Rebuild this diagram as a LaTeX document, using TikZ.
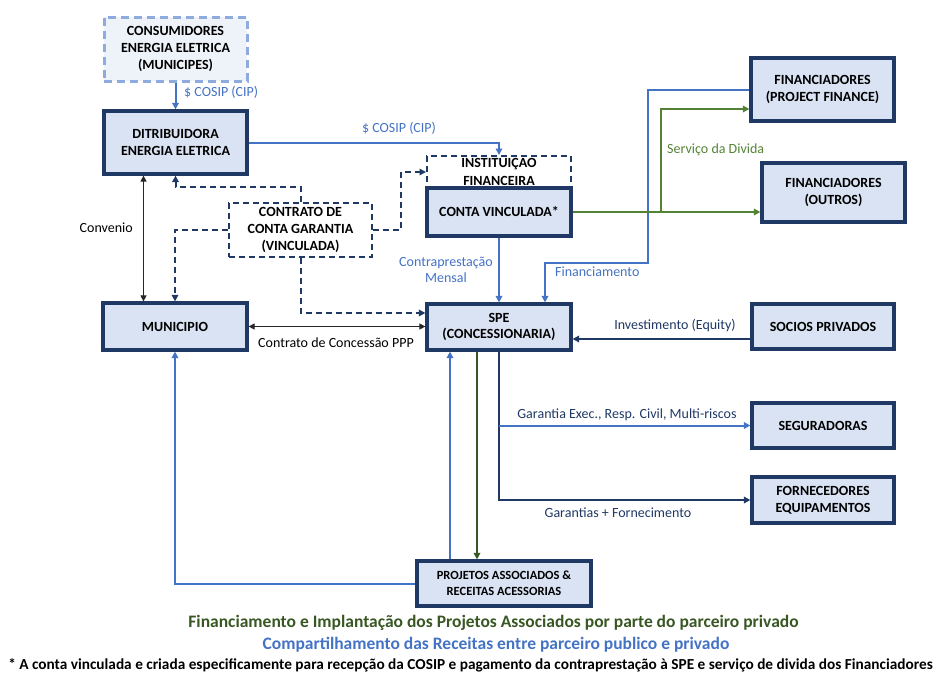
\documentclass[tikz,border=0pt]{standalone}
\usepackage{fontspec}
\setmainfont{Carlito}
\usetikzlibrary{arrows.meta,calc}
\definecolor{navy}{HTML}{1F3864}
\definecolor{boxfill}{HTML}{DAE3F3}
\definecolor{lblue}{HTML}{4472C4}
\definecolor{gre}{HTML}{548235}
\definecolor{dgre}{HTML}{385723}
\definecolor{pale}{HTML}{8FAADC}
\definecolor{palefill}{HTML}{EEF3FA}
\begin{document}
\begin{tikzpicture}[x=1pt,y=-1pt,
  >={Triangle[length=6.5pt,width=6.5pt]},
  box/.style={draw=navy, line width=3.2pt, fill=boxfill, align=center, inner sep=0pt,
    font=\fontsize{14}{16.7}\selectfont\bfseries},
  dbox/.style={draw=navy, line width=2pt, dash pattern=on 6pt off 4pt, fill=white, align=center, inner sep=0pt,
    font=\fontsize{14}{17.5}\selectfont\bfseries},
  cbox/.style={draw=pale, line width=3pt, dash pattern=on 8pt off 5pt, fill=palefill, align=center, inner sep=0pt,
    font=\fontsize{14}{16.7}\selectfont\bfseries},
  lbl/.style={font=\fontsize{14}{16.7}\selectfont, inner sep=0pt, align=center},
  bluel/.style={draw=lblue, line width=2pt},
  navyl/.style={draw=navy, line width=1.8pt},
  greenl/.style={draw=gre, line width=2pt},
  dgreenl/.style={draw=dgre, line width=2pt},
  dashl/.style={draw=navy, line width=2pt, dash pattern=on 6pt off 4pt},
  blackl/.style={draw=black!85, line width=0.9pt, {Triangle[length=6pt,width=6pt]}-{Triangle[length=6pt,width=6pt]}}
]
\useasboundingbox (0,0) rectangle (937,675);

% boxes
\node[cbox, minimum width=143pt, minimum height=64pt] (cons) at (175.5,49) {CONSUMIDORES\\ENERGIA ELETRICA\\(MUNICIPES)};
\node[box, minimum width=143pt, minimum height=63pt] (dist) at (175.5,142.5) {DITRIBUIDORA\\ENERGIA ELETRICA};
\node[dbox, minimum width=144pt, minimum height=32pt] (inst) at (499,172) {INSTITUIÇAO\\FINANCEIRA};
\node[box, minimum width=144pt, minimum height=48pt] (conta) at (499,212) {CONTA VINCULADA*};
\node[dbox, minimum width=143pt, minimum height=54pt, font=\fontsize{14}{16.7}\selectfont\bfseries] (contr) at (300.5,230) {CONTRATO DE\\CONTA GARANTIA\\(VINCULADA)};
\node[box, minimum width=144pt, minimum height=47pt] (mun) at (175,326.5) {MUNICIPIO};
\node[box, minimum width=144pt, minimum height=46pt] (spe) at (499,327) {SPE\\(CONCESSIONARIA)};
\node[box, minimum width=143pt, minimum height=63pt] (fpf) at (822.5,89.5) {FINANCIADORES\\(PROJECT FINANCE)};
\node[box, minimum width=143pt, minimum height=59pt] (fout) at (833.5,192.5) {FINANCIADORES\\(OUTROS)};
\node[box, minimum width=142pt, minimum height=45pt] (soc) at (823,326.5) {SOCIOS PRIVADOS};
\node[box, minimum width=142pt, minimum height=45pt] (seg) at (823,425.5) {SEGURADORAS};
\node[box, minimum width=142pt, minimum height=46pt] (forn) at (823,500) {FORNECEDORES\\EQUIPAMENTOS};
\node[box, minimum width=174pt, minimum height=45pt, font=\fontsize{12.5}{16}\selectfont\bfseries] (proj) at (504,583.5) {PROJETOS ASSOCIADOS \&\\RECEITAS ACESSORIAS};

% COSIP flows
\draw[bluel, ->] (cons.south) -- (dist.north);
\node[lbl, text=lblue, anchor=west] (l1) at (184,92) {\$ COSIP (CIP)};
\draw[bluel, ->] (dist.east) -| (inst.north);
\node[lbl, text=lblue] (l2) at (399,128) {\$ COSIP (CIP)};

% dashed contract links
\draw[dashl, ->] (contr.north) -- ++(0,-15) -| (dist.south);
\draw[dashl, ->] (contr.west) -| (mun.north);
\draw[dashl, ->] (contr.east) -- ++(28,0) |- (inst.west);
\draw[dashl, ->] (contr.south) |- ([yshift=14pt]spe.west);

% convenio and PPP
\coordinate (cv) at ([xshift=-32pt]dist.south);
\draw[blackl] (cv) -- (cv |- mun.north);
\node[lbl, anchor=east] (l3) at (133,228) {Convenio};
\draw[blackl] (mun.east) -- (mun.east -| spe.west);
\node[lbl] (l4) at (336,343) {Contrato de Concessão PPP};

% contraprestacao
\draw[bluel, ->] (conta.south) -- (spe.north);
\node[lbl, text=lblue] (l5) at (446,270) {Contraprestação\\Mensal};

% financiamento
\coordinate (fk) at (648,263);
\draw[bluel, ->] (fpf.west) -| (fk) -| ([xshift=46pt]spe.north);
\node[lbl, text=lblue, anchor=west] (l6) at (555,272) {Financiamento};

% servico da divida
\coordinate (gb) at (661,212);
\draw[greenl, ->] (conta.east) -- (conta.east -| fout.west);
\draw[greenl, ->] (gb) |- ([yshift=-19.5pt]fpf.west);
\node[lbl, text=gre, anchor=west] (l7) at (667,150) {Serviço da Divida};

% socios
\coordinate (sp) at ([yshift=-12.5pt]soc.west);
\draw[navyl, ->] (sp) -- (sp -| spe.east);
\node[lbl, text=navy] (l8) at (675,326) {Investimento (Equity)};

% garantias
\draw[navyl, ->] (spe.south) |- (forn.west);
\coordinate (sb) at (spe.south |- seg.west);
\draw[bluel, ->] (sb) -- (seg.west);
\node[lbl, text=navy] (l9) at (627,415) {Garantia Exec., Resp. Civil, Multi-riscos};
\node[lbl, text=navy] (l10) at (618,513) {Garantias + Fornecimento};

% projetos associados
\coordinate (pg) at ([xshift=-22pt]spe.south);
\draw[dgreenl, ->] (pg) -- (pg |- proj.north);
\coordinate (pb) at ([xshift=-49pt]spe.south);
\draw[bluel, ->] (pb |- proj.north) -- (pb);
\draw[bluel, ->] (proj.west) -| (mun.south);

% bottom texts
\node[lbl, text=dgre, font=\fontsize{17.5}{20}\selectfont\bfseries] (t1) at (493.5,623) {Financiamento e Implantação dos Projetos Associados por parte do parceiro privado};
\node[lbl, text=lblue, font=\fontsize{17.5}{20}\selectfont\bfseries] (t2) at (496,645) {Compartilhamento das Receitas entre parceiro publico e privado};
\node[lbl, font=\fontsize{15.3}{17}\selectfont\bfseries] (t3) at (470.5,665) {* A conta vinculada e criada especificamente para recepção da COSIP e pagamento da contraprestação à SPE e serviço de divida dos Financiadores};
\end{tikzpicture}
\end{document}
